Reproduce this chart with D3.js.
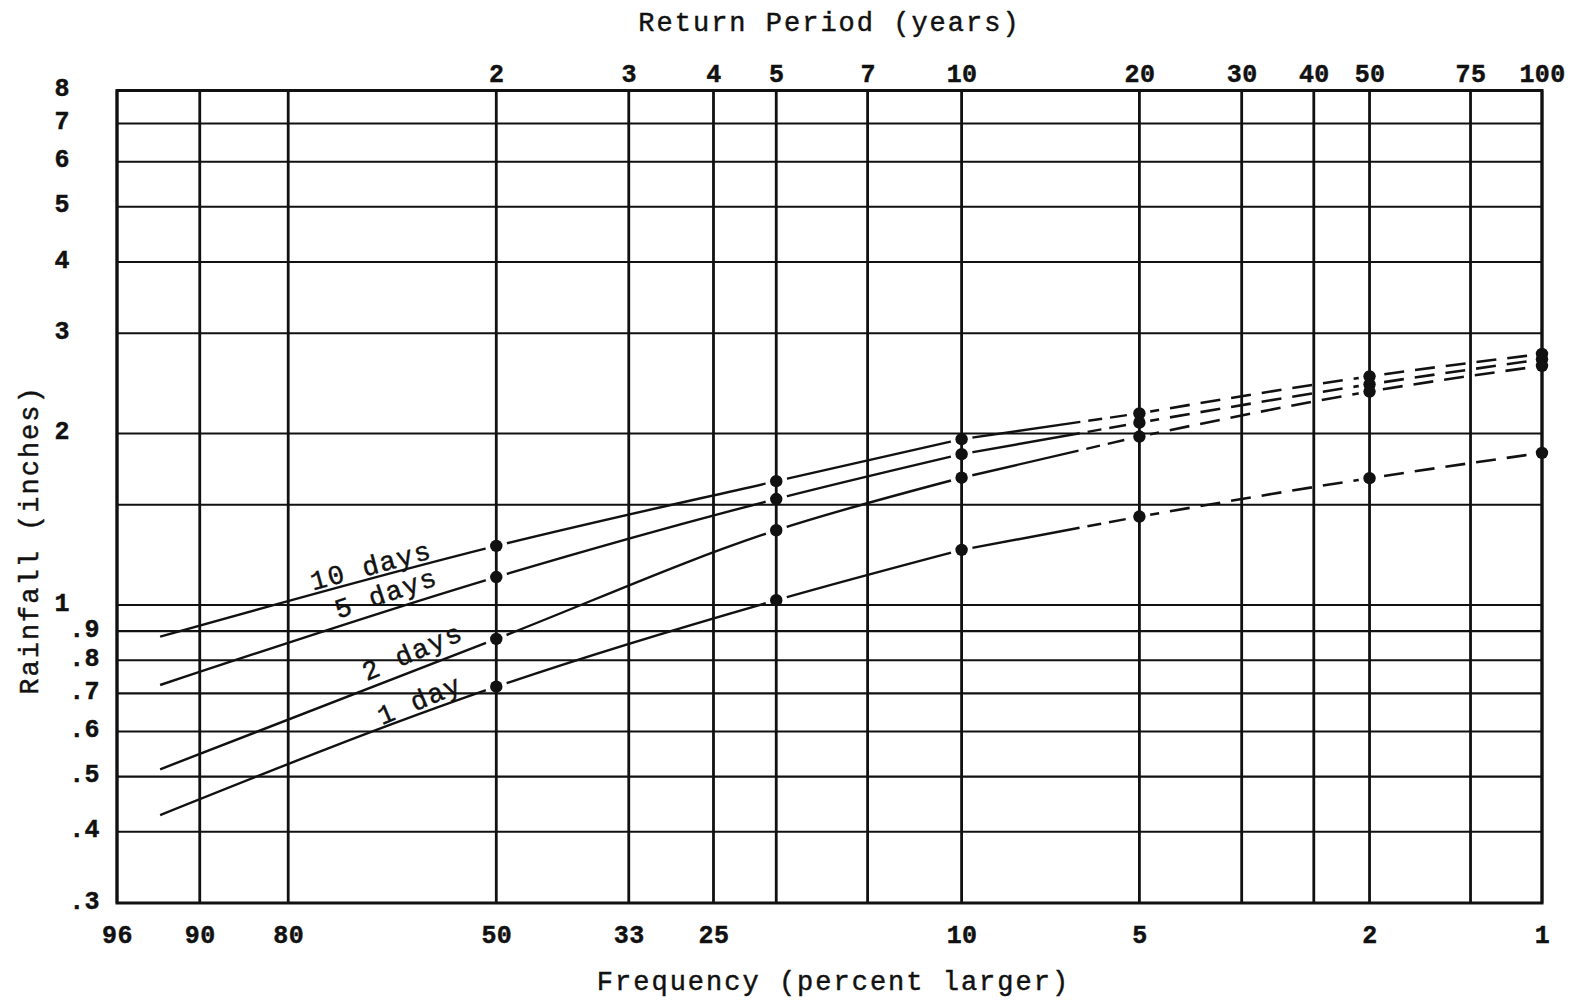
<!DOCTYPE html>
<html><head><meta charset="utf-8">
<script src="https://cdn.jsdelivr.net/npm/d3@7"></script>
<style>
html,body{margin:0;padding:0;background:#fff;}
svg{display:block;}
text{font-family:"Liberation Mono","Courier New",monospace;fill:#111;stroke:#111;stroke-width:0.45px;}
</style></head><body>
<svg id="chart" width="1570" height="1002"></svg>
<script>
// ---- data ----
const returnPeriods = [2, 3, 4, 5, 7, 10, 20, 30, 40, 50, 75, 100];          // top axis (years)
const freqTickValues = [96, 90, 80, 50, 33.33, 25, 10, 5, 2, 1];             // bottom axis (% larger)
const freqTickLabels = ["96", "90", "80", "50", "33", "25", "10", "5", "2", "1"];
const rainTickValues = [8, 7, 6, 5, 4, 3, 2, 1, 0.9, 0.8, 0.7, 0.6, 0.5, 0.4, 0.3];
const rainTickLabels = ["8", "7", "6", "5", "4", "3", "2", "1", ".9", ".8", ".7", ".6", ".5", ".4", ".3"];
const rainGridValues = [8, 7, 6, 5, 4, 3, 2, 1.5, 1, 0.9, 0.8, 0.7, 0.6, 0.5, 0.4, 0.3];
const pointFreq = [93.3, 50, 20, 10, 5, 2, 1];   // % larger; first entry = start of curve (no marker)
const tenDay  = [0.88, 1.27, 1.65, 1.955, 2.17, 2.52, 2.76];
const fiveDay = [0.724, 1.12, 1.535, 1.84, 2.09, 2.44, 2.70];
const twoDay  = [0.515, 0.872, 1.353, 1.673, 1.976, 2.37, 2.63];
const oneDay  = [0.428, 0.719, 1.02, 1.25, 1.43, 1.67, 1.85];
const seriesNames = ["10 days", "5 days", "2 days", "1 day"];

(function () {
// ---- helpers: Gumbel (extreme value) reduced variate ----
const rvFromPercent = p => -Math.log(-Math.log(1 - p / 100));
const rvFromPeriod = T => -Math.log(-Math.log(1 - 1 / T));

const svg = d3.select("#chart");
const W = 1570, H = 1002;
svg.append("rect").attr("width", W).attr("height", H).attr("fill", "#fff");

const pL = 117, pR = 1542, pT = 90.5, pB = 903;
const x = d3.scaleLinear().domain([rvFromPercent(96), rvFromPercent(1)]).range([pL, pR]);
const y = d3.scaleLog().domain([0.3, 8]).range([pB, pT]);
const ink = "#111";

const allSeries = [tenDay, fiveDay, twoDay, oneDay].map((vals, i) => ({
  name: seriesNames[i],
  pts: vals.map((v, j) => ({ rv: rvFromPercent(pointFreq[j]), v }))
}));

const line = d3.line().x(d => x(d.rv)).y(d => y(d.v)).curve(d3.curveMonotoneX);

// ---- data lines ----
const gLines = svg.append("g");
allSeries.forEach(s => {
  gLines.append("path").attr("d", line(s.pts.slice(0, 4)))
    .attr("fill", "none").attr("stroke", ink).attr("stroke-width", 2.4);
  gLines.append("path").attr("d", line(s.pts.slice(3, 5)))
    .attr("fill", "none").attr("stroke", ink).attr("stroke-width", 2.4)
    .attr("stroke-dasharray", "120,8,14,8,17,30");
  gLines.append("path").attr("d", line(s.pts.slice(4)))
    .attr("fill", "none").attr("stroke", ink).attr("stroke-width", 2.6)
    .attr("stroke-dasharray", "20,11");
});

// white halos around markers (gaps in the curves)
const gHalo = svg.append("g");
allSeries.forEach(s => {
  gHalo.selectAll(null).data(s.pts.slice(1)).join("circle")
    .attr("cx", d => x(d.rv)).attr("cy", d => y(d.v)).attr("r", 11).attr("fill", "#fff");
});

// ---- grid ----
const vGridRV = [];
freqTickValues.map(rvFromPercent).concat(returnPeriods.map(rvFromPeriod)).forEach(v => {
  if (!vGridRV.some(u => Math.abs(u - v) < 0.01)) vGridRV.push(v);
});
const gGrid = svg.append("g");
gGrid.selectAll("line.v").data(vGridRV).join("line").attr("class", "v")
  .attr("x1", d => x(d)).attr("x2", d => x(d)).attr("y1", pT).attr("y2", pB)
  .attr("stroke", ink).attr("stroke-width", 2.8);
gGrid.selectAll("line.h").data(rainGridValues).join("line").attr("class", "h")
  .attr("x1", pL).attr("x2", pR).attr("y1", d => y(d)).attr("y2", d => y(d))
  .attr("stroke", ink).attr("stroke-width", 2.1);
svg.append("rect").attr("x", pL).attr("y", pT).attr("width", pR - pL).attr("height", pB - pT)
  .attr("fill", "none").attr("stroke", ink).attr("stroke-width", 3);

// ---- markers ----
const gDots = svg.append("g");
allSeries.forEach(s => {
  gDots.selectAll(null).data(s.pts.slice(1)).join("circle")
    .attr("cx", d => x(d.rv)).attr("cy", d => y(d.v)).attr("r", 6.2).attr("fill", ink);
});

// ---- curve labels ----
const labelPos = [ { t: 0.455, off: -5, da: 0 }, { t: 0.53, off: -9, da: -1 },
                   { t: 0.615, off: -8, da: -2 }, { t: 0.66, off: -5, da: -2 } ];
allSeries.forEach((s, i) => {
  const p0 = s.pts[0], p1 = s.pts[1];
  const x0 = x(p0.rv), y0 = y(p0.v), x1 = x(p1.rv), y1 = y(p1.v);
  const ang = Math.atan2(y1 - y0, x1 - x0) * 180 / Math.PI + labelPos[i].da;
  const lx = x0 + (x1 - x0) * labelPos[i].t, ly = y0 + (y1 - y0) * labelPos[i].t + labelPos[i].off;
  svg.append("text").attr("transform", `translate(${lx},${ly}) rotate(${ang})`)
    .attr("font-size", 27).attr("letter-spacing", 1.6).text(s.name);
});

// ---- axes (labels only) ----
const fontTick = 25;
const axTop = svg.append("g").attr("transform", `translate(0,${pT})`)
  .call(d3.axisTop(x).tickValues(returnPeriods.map(rvFromPeriod))
    .tickFormat((d, i) => returnPeriods[i]).tickSize(0).tickPadding(9));
const axBot = svg.append("g").attr("transform", `translate(0,${pB})`)
  .call(d3.axisBottom(x).tickValues(freqTickValues.map(rvFromPercent))
    .tickFormat((d, i) => freqTickLabels[i]).tickSize(0).tickPadding(22));
const axLeft = svg.append("g")
  .call(d3.axisLeft(y).tickValues(rainTickValues)
    .tickFormat((d, i) => rainTickLabels[i]).tickSize(0).tickPadding(0));
[axTop, axBot, axLeft].forEach(a => {
  a.select(".domain").remove();
  a.selectAll("text").attr("font-family", '"Liberation Mono","Courier New",monospace')
    .attr("font-size", fontTick).attr("font-weight", "bold").attr("letter-spacing", 0.4)
    .attr("fill", ink).attr("stroke", "none");
});
axLeft.selectAll(".tick text")
  .attr("x", d => d >= 1 ? 70 : 100).attr("dy", "0.32em")
  .attr("transform", "translate(0,-3)");

// ---- axis titles ----
svg.append("text").attr("x", (pL + pR) / 2).attr("y", 31).attr("text-anchor", "middle")
  .attr("font-size", 27).attr("letter-spacing", 2).text("Return Period (years)");
svg.append("text").attr("x", (pL + pR) / 2 + 4).attr("y", 990).attr("text-anchor", "middle")
  .attr("font-size", 27).attr("letter-spacing", 2).text("Frequency (percent larger)");
svg.append("text").attr("transform", "translate(38,540) rotate(-90)").attr("text-anchor", "middle")
  .attr("font-size", 27).attr("letter-spacing", 2).text("Rainfall (inches)");
})();
</script>
</body></html>
